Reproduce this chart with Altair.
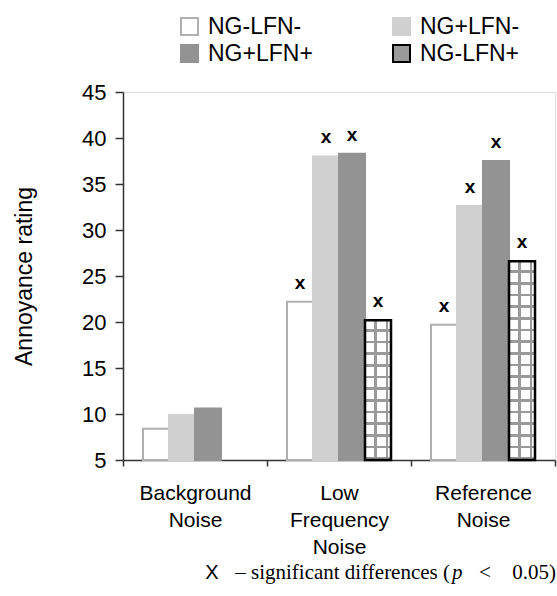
import altair as alt
import pandas as pd

# ---------------- data ----------------
categories = ["Background Noise", "Low Frequency Noise", "Reference Noise"]
series = ["NG-LFN-", "NG+LFN-", "NG+LFN+", "NG-LFN+"]
legend_order = ["NG-LFN-", "NG+LFN+", "NG+LFN-", "NG-LFN+"]

ng_minus_lfn_minus = [8.4, 22.2, 19.7]
ng_plus_lfn_minus = [9.9, 38.0, 32.6]
ng_plus_lfn_plus = [10.6, 38.3, 37.5]
ng_minus_lfn_plus = [None, 20.2, 26.6]

sig_ng_minus_lfn_minus = [False, True, True]
sig_ng_plus_lfn_minus = [False, True, True]
sig_ng_plus_lfn_plus = [False, True, True]
sig_ng_minus_lfn_plus = [False, True, True]

y_ticks = [5, 10, 15, 20, 25, 30, 35, 40, 45]

values = [ng_minus_lfn_minus, ng_plus_lfn_minus, ng_plus_lfn_plus, ng_minus_lfn_plus]
sigs = [sig_ng_minus_lfn_minus, sig_ng_plus_lfn_minus, sig_ng_plus_lfn_plus, sig_ng_minus_lfn_plus]

rows = []
for si, s in enumerate(series):
    for ci, c in enumerate(categories):
        v = values[si][ci]
        if v is None:
            continue
        rows.append({"category": c, "series": s, "value": v, "sig": sigs[si][ci]})
df = pd.DataFrame(rows)

# ---------------- styles ----------------
W, H = 432, 368
fill_of = {"NG-LFN-": "#ffffff", "NG+LFN-": "#d0d0d0", "NG+LFN+": "#939393", "NG-LFN+": "#9a9a9a"}
stroke_of = {"NG-LFN-": "#b0b0b0", "NG+LFN-": "#d0d0d0", "NG+LFN+": "#939393", "NG-LFN+": "#000000"}
LINE = "#9a9a9a"
CLEAR = "rgba(255,255,255,0)"


def vertical_stripes():
    stops = []
    for a, b, col in [(0.0, 0.36, "#ffffff"), (0.36, 0.46, LINE), (0.46, 0.80, "#ffffff"),
                      (0.80, 0.90, LINE), (0.90, 1.0, "#ffffff")]:
        stops.append({"offset": a, "color": col})
        stops.append({"offset": b, "color": col})
    return {"gradient": "linear", "x1": 0, "y1": 0, "x2": 1, "y2": 0, "stops": stops}


def horizontal_stripes(n, frac=0.23):
    stops = []
    for i in range(n):
        a = i / n
        m = (i + 1 - frac) / n
        b = (i + 1) / n
        stops += [{"offset": a, "color": CLEAR}, {"offset": m, "color": CLEAR},
                  {"offset": m, "color": LINE}, {"offset": b, "color": LINE}]
    return {"gradient": "linear", "x1": 0, "y1": 0, "x2": 0, "y2": 1, "stops": stops}


x_enc = alt.X(
    "category:N", sort=categories,
    scale=alt.Scale(domain=categories, paddingInner=0, paddingOuter=0),
    axis=alt.Axis(title=None, labelAngle=0, labelExpr="split(datum.label, ' ')",
                  labelOverlap=False, labelFlush=False, labelBound=False,
                  tickBand="extent", tickSize=6, tickColor="#333", tickWidth=1.5,
                  domainColor="#333", domainWidth=1.5,
                  labelFontSize=21, labelLineHeight=27, labelPadding=16,
                  labelColor="#000", labelFont="Liberation Sans"),
)
xo_enc = alt.XOffset("series:N", sort=series,
                     scale=alt.Scale(domain=series, paddingInner=0, paddingOuter=0.769))
y_enc = alt.Y(
    "value:Q",
    scale=alt.Scale(domain=[5, 45], zero=False, nice=False, clamp=True),
    axis=alt.Axis(values=y_ticks, title="Annoyance rating", grid=False,
                  tickSize=8, tickColor="#333", tickWidth=1.5,
                  domainColor="#333", domainWidth=1.5,
                  labelFontSize=22, labelPadding=9, labelColor="#000",
                  titleFontSize=23, titleFontWeight="normal", titleColor="#000",
                  titlePadding=45, labelFont="Liberation Sans", titleFont="Liberation Sans"),
)

legend_kw = dict(title=None, orient="none", legendX=55, legendY=-77, direction="vertical",
                 columns=2, columnPadding=76, rowPadding=2,
                 symbolType="square", symbolSize=289,
                 symbolStrokeWidth=2, labelFontSize=23,
                 labelOffset=7, labelColor="#000", labelFont="Liberation Sans")

base = alt.Chart(df)

bars = base.mark_bar(strokeWidth=2).encode(
    x=x_enc, xOffset=xo_enc, y=y_enc,
    fill=alt.Fill("series:N", sort=legend_order,
                  scale=alt.Scale(domain=legend_order, range=[fill_of[s] for s in legend_order]),
                  legend=alt.Legend(**legend_kw)),
    stroke=alt.Stroke("series:N", sort=legend_order,
                      scale=alt.Scale(domain=legend_order, range=[stroke_of[s] for s in legend_order]),
                      legend=alt.Legend(**legend_kw)),
)

hatch_layers = []
for ci, c in enumerate(categories):
    v = ng_minus_lfn_plus[ci]
    if v is None:
        continue
    n = max(1, round((v - 5) * H / 40 / 11.5))
    sub = base.transform_filter(
        (alt.datum.series == "NG-LFN+") & (alt.datum.category == c))
    hatch_layers.append(
        sub.mark_bar(fill=vertical_stripes(), strokeWidth=0).encode(
            x=alt.X("category:N", sort=categories), xOffset=alt.XOffset("series:N", sort=series),
            y=alt.Y("value:Q")))
    hatch_layers.append(
        sub.mark_bar(fill=horizontal_stripes(n), stroke="#000", strokeWidth=2.5).encode(
            x=alt.X("category:N", sort=categories), xOffset=alt.XOffset("series:N", sort=series),
            y=alt.Y("value:Q")))

marks = base.transform_filter(alt.datum.sig == True).mark_text(
    text="x", font="Liberation Sans", fontWeight="bold", fontSize=19,
    baseline="middle", dy=-19, color="#000").encode(
    x=alt.X("category:N", sort=categories), xOffset=alt.XOffset("series:N", sort=series),
    y=alt.Y("value:Q"))

note_df = pd.DataFrame({"k": [0]})
note_base = alt.Chart(note_df)
NY = 487
note_x = note_base.mark_text(text="X", font="Liberation Sans", fontSize=20,
                             align="center", baseline="alphabetic", color="#000").encode(
    x=alt.value(89), y=alt.value(NY))
note_1 = note_base.mark_text(text="– significant differences (", font="Liberation Serif",
                             fontSize=21, align="right", baseline="alphabetic",
                             color="#000").encode(x=alt.value(327), y=alt.value(NY))
note_p = note_base.mark_text(text="p", font="Liberation Serif", fontStyle="italic",
                             fontSize=21, align="left", baseline="alphabetic",
                             color="#000").encode(x=alt.value(329), y=alt.value(NY))
note_lt = note_base.mark_text(text="<", font="Liberation Serif",
                              fontSize=21, align="left", baseline="alphabetic",
                              color="#000").encode(x=alt.value(356), y=alt.value(NY))
note_2 = note_base.mark_text(text="0.05)", font="Liberation Serif",
                             fontSize=21, align="right", baseline="alphabetic",
                             color="#000").encode(x=alt.value(433), y=alt.value(NY))

chart = alt.layer(bars, *hatch_layers, marks, note_x, note_1, note_p, note_lt, note_2).properties(
    width=W, height=H,
    autosize=alt.AutoSizeParams(type="none"),
    padding={"left": 123, "top": 92, "right": 2, "bottom": 136},
).configure_view(stroke="#999", strokeWidth=1.5).configure(
    font="Liberation Sans", background="white")

chart.save("out.html", embed_options={"renderer": "svg", "actions": False})
